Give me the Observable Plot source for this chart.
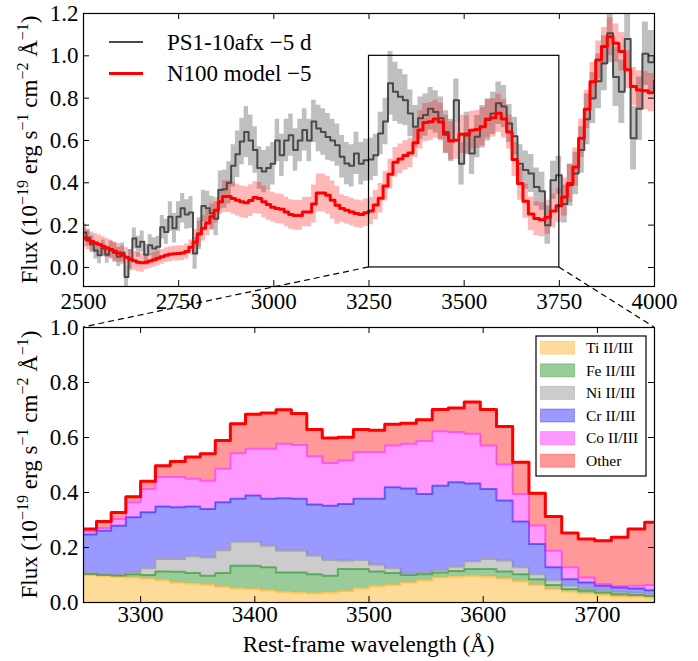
<!DOCTYPE html>
<html><head><meta charset="utf-8">
<script src="https://cdn.jsdelivr.net/npm/d3@7"></script>
<script src="https://cdn.jsdelivr.net/npm/@observablehq/plot@0.6"></script>
<style>
body{margin:0;background:#fff;}
#wrap{position:relative;width:698px;height:661px;font-family:"Liberation Serif",serif;}
#wrap svg{display:block;}
#top,#bot{position:absolute;left:0;}
#top{top:0}#bot{top:310px}
#ov{position:absolute;left:0;top:0;pointer-events:none}
</style></head><body>
<div id="wrap"><div id="top"></div><div id="bot"></div></div>
<script>
// wavelength grid: log-spaced bins, bin k spans binRef*binRatio^k .. binRef*binRatio^(k+1)
const binRatio = 1.003931, binRef = 3300, firstBin = -71, zoomFirstBin = -4;

// N100 model flux (bins k = -71 .. 49)
const modelFlux = [
 0.14,0.13,0.123,0.115,0.108,0.10,0.092,0.085,0.076,0.068,0.058,0.048,0.04,0.032,0.025,0.022,
 0.025,0.03,0.036,0.043,0.05,0.058,0.062,0.065,0.066,0.068,0.075,0.095,
 0.12,0.158,0.185,0.21,0.24,0.27,0.31,
 0.335,0.335,0.326,0.318,0.31,0.306,0.316,0.33,0.326,0.31,0.298,
 0.285,0.278,0.275,0.262,0.25,0.246,0.246,0.262,0.262,
 0.30,0.352,0.352,0.341,0.318,0.294,
 0.278,0.27,0.262,0.255,0.25,0.258,0.267,
 0.295,0.327,0.385,0.441,0.497,0.513,0.529,0.541,0.589,
 0.65,0.685,0.689,0.701,0.687,0.629,0.598,0.601,0.629,0.626,0.648,0.652,0.665,0.702,0.707,0.729,0.702,
 0.640,0.510,0.397,0.313,0.253,0.231,0.225,0.237,0.267,0.292,
 0.333,0.397,0.475,0.61,0.747,0.878,0.98,1.044,1.09,1.06,1.02,0.934,0.855,0.839,0.835,0.826,0.88];
const modelErr = [
 0.045,0.045,0.045,0.045,0.045,0.045,0.045,0.045,0.045,0.045,0.045,0.045,0.045,0.045,0.045,0.045,
 0.035,0.035,0.035,0.035,0.035,0.035,0.035,0.035,0.035,0.035,0.035,0.035,
 0.06,0.06,0.06,0.06,0.06,0.06,0.06,
 0.075,0.075,0.075,0.075,0.075,0.075,0.075,0.075,0.075,0.075,0.075,
 0.07,0.07,0.07,0.07,0.07,0.07,0.07,0.07,0.07,
 0.09,0.09,0.09,0.09,0.09,0.09,
 0.065,0.065,0.065,0.065,0.065,0.065,0.065,
 0.07,0.07,0.07,0.07,0.07,0.07,0.07,0.07,0.07,
 0.09,0.09,0.09,0.09,0.09,0.09,0.09,0.09,0.09,0.09,0.09,0.09,0.09,0.09,0.09,0.09,0.09,
 0.08,0.08,0.08,0.08,0.08,0.08,0.08,0.08,0.08,0.08,
 0.09,0.09,0.09,0.09,0.09,0.09,0.09,0.09,0.09,0.09,0.09,0.09,0.09,0.09,0.09,0.09,0.09];

// PS1-10afx observed flux (same bins)
const obsFlux = [
 0.165,0.14,0.11,0.08,0.058,0.09,0.06,0.085,0.07,0.05,0.07,-0.045,0.035,
 0.137,0.098,0.122,0.06,0.105,0.09,0.098,0.19,0.168,
 0.24,0.185,0.24,0.28,0.25,0.26,0.066,0.16,0.29,0.28,0.256,0.23,
 0.366,0.37,0.40,0.48,0.535,0.595,0.64,0.60,0.555,0.47,0.453,0.47,0.49,
 0.60,0.53,0.60,0.625,0.555,0.60,0.65,0.60,0.69,0.657,0.64,0.617,0.60,0.578,0.523,0.491,0.48,0.539,0.49,0.507,0.51,0.53,0.633,0.69,
 0.87,0.83,0.807,0.79,0.728,0.665,0.705,0.72,0.75,0.735,0.705,0.64,0.60,0.79,0.49,0.633,0.539,0.618,0.665,0.697,0.728,0.776,0.76,0.68,0.62,0.49,0.46,0.444,0.38,0.36,0.20,0.412,
 0.436,0.30,0.389,0.444,0.555,0.70,0.80,0.88,0.965,1.107,0.90,0.83,1.08,0.61,0.75,1.01,0.97,1.0];
const obsErr = [
 0.04,0.04,0.04,0.04,0.04,0.04,0.04,0.04,0.045,0.045,0.045,0.05,0.05,
 0.05,0.05,0.05,0.05,0.05,0.05,0.05,0.055,0.06,
 0.07,0.07,0.07,0.07,0.07,0.075,0.075,0.075,0.075,0.08,0.08,0.08,
 0.09,0.09,0.1,0.1,0.11,0.11,0.12,0.12,0.11,0.1,0.1,0.1,0.1,
 0.1,0.1,0.1,0.1,0.1,0.1,0.1,0.1,0.1,0.11,0.11,0.11,0.1,0.1,0.1,0.1,0.1,0.1,0.1,0.1,0.1,0.1,0.1,0.11,
 0.15,0.14,0.13,0.12,0.11,0.1,0.1,0.1,0.1,0.1,0.1,0.1,0.1,0.1,0.1,0.1,0.1,0.1,0.1,0.1,0.1,0.1,0.1,0.09,0.09,0.09,0.09,0.09,0.09,0.09,0.09,0.09,
 0.09,0.09,0.1,0.1,0.11,0.12,0.12,0.13,0.13,0.14,0.14,0.15,0.15,0.15,0.15,0.15,0.15,0.15];

// ion contributions to the model, bins k = -4 .. 32
const ionNames = ["Ti II/III","Fe II/III","Ni II/III","Cr II/III","Co II/III","Other"];
const ionColors = ["orange","green","gray","blue","magenta","red"];
const tiFlux = [0.100,0.097,0.093,0.091,0.087,0.082,0.073,0.069,0.065,0.057,0.052,0.049,0.045,0.039,0.036,0.034,0.036,0.042,0.052,
 0.060,0.064,0.073,0.081,0.091,0.095,0.097,0.095,0.087,0.077,0.064,0.049,0.040,0.033,0.028,0.023,0.021,0.018];
const feFlux = [0.004,0.003,0.005,0.012,0.013,0.031,0.039,0.038,0.032,0.050,0.082,0.085,0.083,0.070,0.073,0.069,0.061,0.080,0.070,
 0.053,0.043,0.027,0.022,0.018,0.020,0.025,0.027,0.026,0.026,0.021,0.015,0.009,0.010,0.008,0.007,0.006,0.006];
const niFlux = [0.002,0.002,0.002,0.006,0.025,0.045,0.046,0.061,0.067,0.083,0.087,0.087,0.078,0.079,0.079,0.067,0.058,0.030,0.033,
 0.024,0.018,0.005,0.004,0.009,0.015,0.027,0.036,0.039,0.025,0.018,0.017,0.012,0.006,0.007,0.006,0.006,0.004];
const crFlux = [0.141,0.159,0.179,0.201,0.203,0.191,0.188,0.181,0.176,0.175,0.156,0.168,0.171,0.191,0.189,0.186,0.197,0.206,0.222,
 0.240,0.294,0.310,0.288,0.307,0.307,0.284,0.255,0.219,0.167,0.110,0.047,0.024,0.024,0.018,0.019,0.018,0.017];
const coFlux = [0.012,0.010,0.025,0.055,0.085,0.107,0.110,0.101,0.103,0.121,0.166,0.170,0.182,0.198,0.196,0.176,0.155,0.158,0.170,
 0.170,0.152,0.162,0.192,0.198,0.183,0.181,0.158,0.131,0.100,0.067,0.060,0.043,0.018,0.006,0.005,0.010,0.019];
const otherFlux = [0.008,0.024,0.023,0.020,0.028,0.041,0.057,0.079,0.098,0.103,0.107,0.126,0.130,0.124,0.114,0.097,0.091,0.085,0.082,
 0.079,0.077,0.075,0.078,0.079,0.087,0.115,0.131,0.138,0.115,0.117,0.125,0.125,0.140,0.158,0.177,0.206,0.228];

const xTicksTop = [2500,2750,3000,3250,3500,3750,4000];
const yTicksTop = [0,0.2,0.4,0.6,0.8,1.0,1.2];
const xTicksBot = [3300,3400,3500,3600,3700];
const yTicksBot = [0,0.2,0.4,0.6,0.8,1.0];
const legendTop = ["PS1-10afx \u22125 d", "N100 model \u22125"];

// ---------- build ----------
const edge = k => binRef * Math.pow(binRatio, k);
function stepRows(vals, errs, k0) {
  const rows = vals.map((v, i) => ({x: edge(k0 + i), v, lo: v - errs[i], hi: v + errs[i]}));
  rows.push({...rows[rows.length - 1], x: edge(k0 + vals.length)});
  return rows;
}
const modRows = stepRows(modelFlux, modelErr, firstBin);
const obsRows = stepRows(obsFlux, obsErr, firstBin);
const stackRows = [];
[tiFlux, feFlux, niFlux, crFlux, coFlux, otherFlux].forEach((arr, j) => {
  arr.forEach((v, i) => stackRows.push({x: edge(zoomFirstBin + i), v, s: ionNames[j]}));
  stackRows.push({x: edge(zoomFirstBin + arr.length), v: arr[arr.length - 1], s: ionNames[j]});
});

const W = 698, ML = 83, MR = 44, TL = 6;
const topH = 310, topMT = 13, topMB = 24;
const botH = 351, botMT = 17, botMB = 59;
const innerW = W - ML - MR;
const FONT = '"Liberation Serif", serif';
function frameTicks(xt, yt, ih) {
  return [
    Plot.tickX(xt, {x: d => d, insetTop: ih - TL, stroke: "black"}),
    Plot.tickX(xt, {x: d => d, insetBottom: ih - TL, stroke: "black"}),
    Plot.tickY(yt, {y: d => d, insetRight: innerW - TL, stroke: "black"}),
    Plot.tickY(yt, {y: d => d, insetLeft: innerW - TL, stroke: "black"})
  ];
}
const style = {fontFamily: FONT, fontSize: "23px", color: "black", background: "transparent", overflow: "visible"};

const topPlot = Plot.plot({
  width: W, height: topH, marginLeft: ML, marginRight: MR, marginTop: topMT, marginBottom: topMB,
  style,
  x: {domain: [2500, 4000]},
  y: {domain: [-0.09, 1.2]},
  marks: [
    Plot.areaY(obsRows, {x: "x", y1: "lo", y2: "hi", curve: "step-after", fill: "#808080", fillOpacity: 0.5, clip: true}),
    Plot.areaY(modRows, {x: "x", y1: "lo", y2: "hi", curve: "step-after", fill: "red", fillOpacity: 0.28, clip: true}),
    Plot.lineY(obsRows, {x: "x", y: "v", curve: "step-after", stroke: "#4a4a4a", strokeWidth: 2, clip: true}),
    Plot.lineY(modRows, {x: "x", y: "v", curve: "step-after", stroke: "red", strokeWidth: 3, clip: true}),
    Plot.rect([{x1: 3250, x2: 3750, y1: 0, y2: 1.0}], {x1: "x1", x2: "x2", y1: "y1", y2: "y2", fill: "none", stroke: "black", strokeWidth: 1.2}),
    Plot.frame({stroke: "black", strokeWidth: 1.2}),
    ...frameTicks(xTicksTop, yTicksTop, topH - topMT - topMB),
    Plot.axisX({ticks: xTicksTop, tickSize: 0, tickPadding: 6, tickFormat: d => String(d), label: null}),
    Plot.axisY({ticks: yTicksTop, tickSize: 0, tickPadding: 5, tickFormat: d => d.toFixed(1), label: null})
  ]
});

const botPlot = Plot.plot({
  width: W, height: botH, marginLeft: ML, marginRight: MR, marginTop: botMT, marginBottom: botMB,
  style,
  x: {domain: [3250, 3750]},
  y: {domain: [0, 1.0]},
  color: {domain: ionNames, range: ionColors},
  marks: [
    Plot.areaY(stackRows, Plot.stackY({x: "x", y: "v", z: "s", fill: "s", fillOpacity: 0.4, curve: "step-after", clip: true})),
    Plot.lineY(stackRows, Plot.stackY2({x: "x", y: "v", z: "s", stroke: "s", strokeOpacity: 0.45, strokeWidth: 2, curve: "step-after", clip: true})),
    Plot.lineY(stackRows, Plot.groupX({y: "sum"}, {x: "x", y: "v", curve: "step-after", stroke: "red", strokeWidth: 3, clip: true})),
    Plot.frame({stroke: "black", strokeWidth: 1.2}),
    ...frameTicks(xTicksBot, yTicksBot, botH - botMT - botMB),
    Plot.axisX({ticks: xTicksBot, tickSize: 0, tickPadding: 3, tickFormat: d => String(d), label: null}),
    Plot.axisY({ticks: yTicksBot, tickSize: 0, tickPadding: 5, tickFormat: d => d.toFixed(1), label: null})
  ]
});

document.getElementById("top").appendChild(topPlot);
document.getElementById("bot").appendChild(botPlot);

// ---------- overlay: connectors, labels, legends ----------
function fn(s) { return s.apply ? (v => s.apply(v)) : d3.scaleLinear(s.domain, s.range); }
const xT = fn(topPlot.scale("x")), yT = fn(topPlot.scale("y"));
const xB = fn(botPlot.scale("x")), yB = fn(botPlot.scale("y"));
const off = 310;
const sup = t => `<tspan dy="-9" font-size="16">${t}</tspan>`;
const base = t => `<tspan dy="9">${t}</tspan>`;
const ylab = (cx, cy) => `<text transform="translate(${cx},${cy}) rotate(-90)" text-anchor="middle" font-size="23">Flux (10${sup("\u221219")}${base(" erg s")}${sup("\u22121")}${base(" cm")}${sup("\u22122")}${base(" \u00c5")}${sup("\u22121")}${base(")")}</text>`;

let s = `<svg id="ov" width="${W}" height="661" font-family='${FONT}' xmlns="http://www.w3.org/2000/svg">`;
[3250, 3750].forEach(v => {
  s += `<line x1="${xT(v)}" y1="${yT(0)}" x2="${xB(v)}" y2="${off + yB(1.0)}" stroke="black" stroke-width="1.2" stroke-dasharray="6,4"/>`;
});
s += ylab(37, (yT(1.2) + yT(-0.09)) / 2);
s += ylab(37, off + (yB(1) + yB(0)) / 2);
s += `<text x="${(xB(3250) + xB(3750)) / 2}" y="652" text-anchor="middle" font-size="23">Rest-frame wavelength (\u00c5)</text>`;
// top legend
s += `<line x1="109" x2="143" y1="42" y2="42" stroke="#4a4a4a" stroke-width="2"/>`;
s += `<text x="167" y="49.5" font-size="23">${legendTop[0]}</text>`;
s += `<line x1="109" x2="143" y1="73.5" y2="73.5" stroke="red" stroke-width="3"/>`;
s += `<text x="167" y="81" font-size="23">${legendTop[1]}</text>`;
// bottom legend
s += `<rect x="536" y="336" width="110" height="140" fill="white" stroke="black" stroke-width="1.2"/>`;
ionNames.forEach((n, j) => {
  const cy = 347.7 + j * 22.6;
  s += `<rect x="540.5" y="${cy - 6.5}" width="34" height="13" fill="${ionColors[j]}" fill-opacity="0.4" stroke="${ionColors[j]}" stroke-opacity="0.3"/>`;
  s += `<text x="586" y="${cy + 5.3}" font-size="15.5">${n}</text>`;
});
s += `</svg>`;
document.getElementById("wrap").insertAdjacentHTML("beforeend", s);
</script>
</body></html>
